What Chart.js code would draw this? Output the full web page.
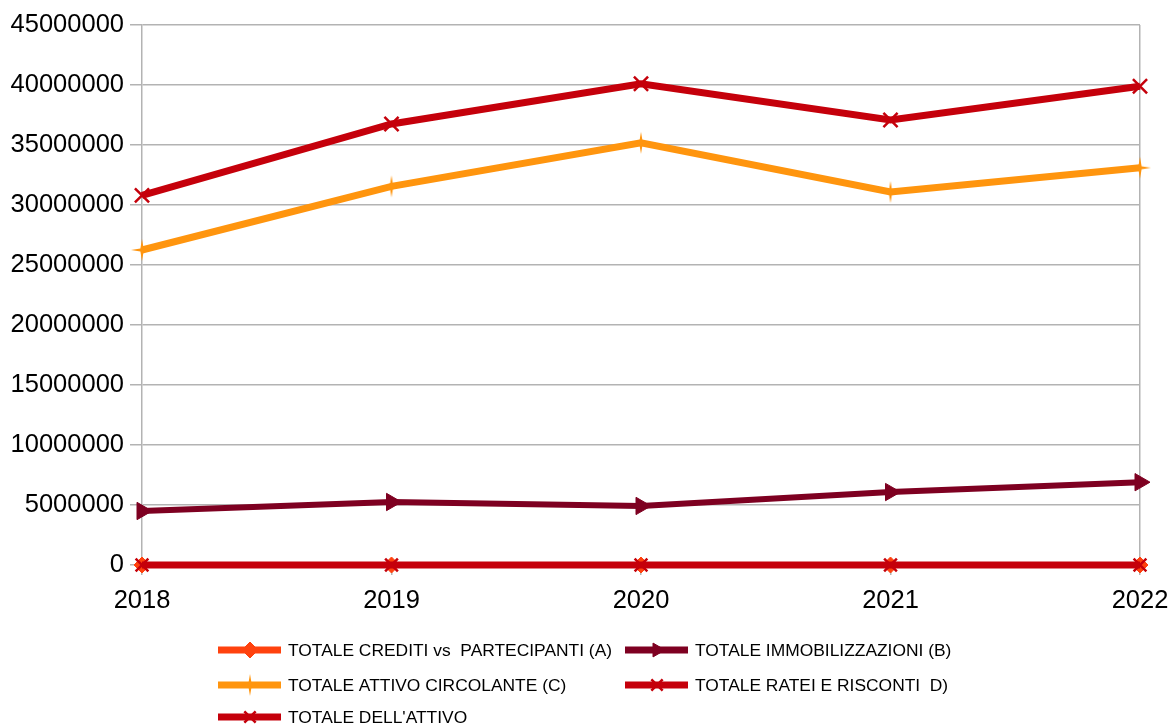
<!DOCTYPE html>
<html>
<head>
<meta charset="utf-8">
<script src="https://cdn.jsdelivr.net/npm/chart.js@4/dist/chart.umd.min.js"></script>
<style>
html,body{margin:0;padding:0;background:#fff;}
#wrap{position:relative;width:1168px;height:727px;}
</style>
</head>
<body>
<div id="wrap"><canvas id="c" width="1168" height="727"></canvas></div>
<script>
const years = ['2018', '2019', '2020', '2021', '2022'];
const seriesNames = [
  'TOTALE CREDITI vs  PARTECIPANTI (A)',
  'TOTALE IMMOBILIZZAZIONI (B)',
  'TOTALE ATTIVO CIRCOLANTE (C)',
  'TOTALE RATEI E RISCONTI  D)',
  "TOTALE DELL'ATTIVO"
];
const crediti = [0, 0, 0, 0, 0];
const immobilizzazioni = [4500000, 5250000, 4920000, 6080000, 6900000];
const circolante = [26250000, 31550000, 35180000, 31080000, 33100000];
const ratei = [0, 0, 0, 0, 0];
const totale = [30800000, 36750000, 40100000, 37080000, 39900000];
const yTicksMax = 45000000;
const yTicksStep = 5000000;

const colors = ['#ff420e', '#7e0021', '#ff950e', '#c5000b', '#c5000b'];

function makeStar(color) {
  const c = document.createElement('canvas');
  c.width = 24; c.height = 24;
  const g = c.getContext('2d');
  g.fillStyle = color;
  g.beginPath();
  const cx = 12, cy = 12, L = 11, w = 1.6;
  g.moveTo(cx, cy - L);
  g.lineTo(cx + w, cy - w);
  g.lineTo(cx + L, cy);
  g.lineTo(cx + w, cy + w);
  g.lineTo(cx, cy + L);
  g.lineTo(cx - w, cy + w);
  g.lineTo(cx - L, cy);
  g.lineTo(cx - w, cy - w);
  g.closePath();
  g.fill();
  return c;
}
const starImg = makeStar(colors[2]);

const seriesData = [crediti, immobilizzazioni, circolante, ratei, totale];
const pointStyles = ['rectRot', 'triangle', starImg, 'crossRot', 'crossRot'];
const pointRadii = [8, 10, 11, 9, 10];
const pointRot = [0, 90, 0, 0, 0];
const lineWidths = [6, 6, 7, 7, 7];

const datasets = seriesData.map((d, i) => ({
  label: seriesNames[i],
  data: d,
  borderColor: colors[i],
  backgroundColor: colors[i],
  borderWidth: lineWidths[i],
  pointStyle: pointStyles[i],
  pointRadius: pointRadii[i],
  pointHoverRadius: pointRadii[i],
  pointRotation: pointRot[i],
  pointBorderWidth: (pointStyles[i] === 'crossRot') ? 2.5 : 1,
  pointBorderColor: colors[i],
  pointBackgroundColor: colors[i],
  tension: 0,
  fill: false,
  order: 5 - i,
  clip: false
}));

const legendPlugin = {
  id: 'customLegend',
  afterDraw(chart) {
    const ctx = chart.ctx;
    const pos = [
      [218, 650], [625, 650],
      [218, 685], [625, 685],
      [218, 717]
    ];
    ctx.save();
    datasets.forEach((ds, i) => {
      const [x, y] = pos[i];
      ctx.strokeStyle = ds.borderColor;
      ctx.lineWidth = 7;
      ctx.lineCap = 'butt';
      ctx.beginPath();
      ctx.moveTo(x, y);
      ctx.lineTo(x + 63, y);
      ctx.stroke();
      const opts = {
        pointStyle: ds.pointStyle,
        radius: ds.pointStyle === starImg ? 11 : 8,
        rotation: ds.pointRotation,
        borderWidth: ds.pointBorderWidth
      };
      ctx.fillStyle = ds.borderColor;
      ctx.strokeStyle = ds.borderColor;
      ctx.lineWidth = ds.pointBorderWidth;
      try { Chart.helpers.drawPoint(ctx, opts, x + 32, y); } catch (e) {}
      ctx.fillStyle = '#000';
      ctx.font = '17.4px "Liberation Sans", Arial, sans-serif';
      ctx.textBaseline = 'middle';
      ctx.textAlign = 'left';
      ctx.fillText(ds.label, x + 70, y + 1);
    });
    ctx.restore();
  }
};

new Chart(document.getElementById('c'), {
  type: 'line',
  data: { labels: years, datasets },
  plugins: [legendPlugin],
  options: {
    responsive: false,
    animation: false,
    devicePixelRatio: 1,
    layout: { padding: { left: 0, right: 28, top: 25, bottom: 112 } },
    plugins: { legend: { display: false }, tooltip: { enabled: false } },
    scales: {
      x: {
        type: 'category',
        offset: false,
        grid: {
          display: true,
          drawOnChartArea: true,
          color: (c) => (c.index === years.length - 1 ? '#b3b3b3' : 'rgba(0,0,0,0)'),
          tickColor: '#b3b3b3',
          tickLength: 10,
          lineWidth: 1.5
        },
        border: { display: false },
        ticks: {
          color: '#000',
          font: { family: '"Liberation Sans", Arial, sans-serif', size: 25.5 },
          padding: 11,
          maxRotation: 0,
          autoSkip: false
        },
        afterFit: (s) => { s.height = 50; s.paddingLeft = 0; s.paddingRight = 0; }
      },
      y: {
        min: 0,
        max: yTicksMax,
        grid: {
          color: '#b3b3b3',
          tickColor: '#b3b3b3',
          tickLength: 12,
          lineWidth: 1.5
        },
        border: { display: true, color: '#b3b3b3', width: 1.5 },
        ticks: {
          stepSize: yTicksStep,
          color: '#000',
          font: { family: '"Liberation Sans", Arial, sans-serif', size: 25.5 },
          padding: 6,
          callback: (v) => String(v)
        },
        afterFit: (s) => { s.width = 142; s.paddingTop = 0; s.paddingBottom = 0; }
      }
    }
  }
});
</script>
</body>
</html>
